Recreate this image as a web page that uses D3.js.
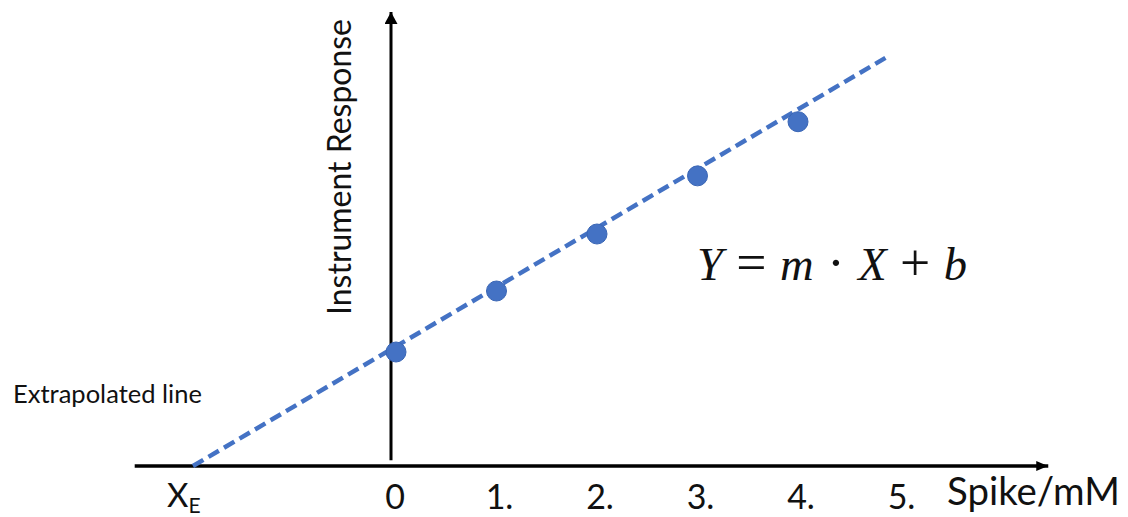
<!DOCTYPE html>
<html>
<head>
<meta charset="utf-8">
<script src="https://cdn.jsdelivr.net/npm/d3@7"></script>
<style>
  html, body { margin: 0; padding: 0; background: #fff; }
  svg { display: block; }
  text { font-family: Lato, "Open Sans", sans-serif; fill: #111; }
</style>
</head>
<body>
<svg id="chart" width="1128" height="517"></svg>
<script>
// ---- data ----
const spikeValues = [0, 1, 2, 3, 4];                  // Spike (mM)
const responseValues = [2.0, 3.07, 4.07, 5.09, 6.04]; // Instrument response
const tickValues = [0, 1, 2, 3, 4, 5];
const tickLabels = ["0", "1.", "2.", "3.", "4.", "5."];
const extrapX = [-2.02, 4.87];   // extrapolated line, x
const extrapY = [0, 7.16];       // extrapolated line, y
const xExtent = [-2.6, 6.51];    // x axis extent
const yExtent = [0.1, 8];        // y axis extent
const xE = -2.02;

// ---- setup ----
const svg = d3.select("#chart");
const x = d3.scaleLinear().domain([0, 5]).range([396, 898.5]);
const y = d3.scaleLinear().domain([0, 8]).range([466, 10]);
const blue = "#4472C4";

const defs = svg.append("defs");
defs.append("marker").attr("id", "arrowX")
  .attr("viewBox", "0 0 12 10").attr("refX", 12).attr("refY", 5)
  .attr("markerWidth", 12).attr("markerHeight", 10)
  .attr("markerUnits", "userSpaceOnUse").attr("orient", "auto")
  .append("path").attr("d", "M0,0 L12,5 L0,10 Z").attr("fill", "#000");
defs.append("marker").attr("id", "arrowY")
  .attr("viewBox", "0 0 12 13").attr("refX", 12).attr("refY", 6.5)
  .attr("markerWidth", 12).attr("markerHeight", 13)
  .attr("markerUnits", "userSpaceOnUse").attr("orient", "auto")
  .append("path").attr("d", "M0,0 L12,6.5 L0,13 Z").attr("fill", "#000");

function fit(sel, w) {
  const base = parseFloat(sel.style("font-size"));
  const m = sel.node().getComputedTextLength();
  sel.style("font-size", (base * w / m) + "px");
}

// ---- axes ----
svg.append("line")
  .attr("x1", x(xExtent[0])).attr("x2", x(xExtent[1]) - 2)
  .attr("y1", y(0)).attr("y2", y(0))
  .attr("stroke", "#000").attr("stroke-width", 3.5)
  .attr("marker-end", "url(#arrowX)");

const yAxisX = x(0) - 5;
svg.append("line")
  .attr("x1", yAxisX).attr("x2", yAxisX)
  .attr("y1", y(yExtent[0])).attr("y2", y(yExtent[1]) + 2)
  .attr("stroke", "#000").attr("stroke-width", 3)
  .attr("marker-end", "url(#arrowY)");

// ---- extrapolated dashed line ----
const lineData = extrapX.map((v, i) => [v, extrapY[i]]);
svg.append("path")
  .datum(lineData)
  .attr("d", d3.line().x(d => x(d[0])).y(d => y(d[1])))
  .attr("fill", "none")
  .attr("stroke", blue)
  .attr("stroke-width", 4.5)
  .attr("stroke-dasharray", "12,6");

// ---- points ----
svg.selectAll("circle.pt")
  .data(spikeValues.map((v, i) => [v, responseValues[i]]))
  .join("circle")
  .attr("class", "pt")
  .attr("cx", d => x(d[0]))
  .attr("cy", d => y(d[1]))
  .attr("r", 10)
  .attr("fill", blue)
  .attr("stroke", "#3A66B5")
  .attr("stroke-width", 1);

// ---- tick labels ----
svg.selectAll("text.tick")
  .data(tickValues)
  .join("text")
  .attr("class", "tick")
  .attr("y", 509)
  .style("font-size", "34px")
  .text((d, i) => tickLabels[i])
  .each(function (d) {
    const half = this.getSubStringLength(0, 1) / 2;
    d3.select(this).attr("x", x(d) - half - 1);
  });

// X_E label
const xeText = svg.append("text")
  .attr("x", x(xE) - 26).attr("y", 507)
  .style("font-size", "33px");
xeText.append("tspan").text("X");
xeText.append("tspan").attr("dy", 6).style("font-size", "21px").text("E");

// axis title
const spike = svg.append("text")
  .attr("x", 947).attr("y", 505)
  .style("font-size", "28px")
  .text("Spike/mM");
fit(spike, 173);

const yTitle = svg.append("text")
  .attr("transform", "translate(351,167) rotate(-90)")
  .attr("text-anchor", "middle")
  .style("font-size", "26px")
  .text("Instrument Response");
fit(yTitle, 296);

const extra = svg.append("text")
  .attr("x", 13).attr("y", 403)
  .style("font-size", "23px")
  .text("Extrapolated line");
fit(extra, 189);

// equation
const eq = svg.append("text")
  .attr("x", 697).attr("y", 280)
  .style("font-family", "'Liberation Serif', 'DejaVu Serif', serif")
  .style("font-size", "46px");
const parts = [["Y", true], [" = ", false], ["m", true], [" · ", false], ["X", true], [" + ", false], ["b", true]];
parts.forEach(p => {
  eq.append("tspan")
    .style("font-style", p[1] ? "italic" : "normal")
    .style("font-size", p[1] ? null : "1.15em")
    .text(p[0]);
});
fit(eq, 270);
</script>
</body>
</html>
